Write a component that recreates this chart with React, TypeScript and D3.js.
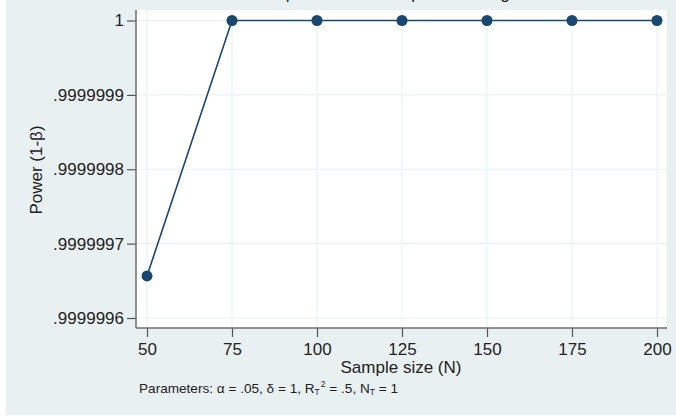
import { useRef, useEffect } from "react";
import * as d3 from "d3";

const sampleSizes = [50, 75, 100, 125, 150, 175, 200];
const power = [0.9999996565, 1, 1, 1, 1, 1, 1];
const yTicks = [0.9999996, 0.9999997, 0.9999998, 0.9999999, 1];
const yTickLabels = [".9999996", ".9999997", ".9999998", ".9999999", "1"];
const title = "Estimated power for a multiple linear regression test";

function PowerChart() {
    const svgRef = useRef<SVGSVGElement>(null);

    useEffect(() => {
        const w = 676
        const h = 416
        const font = "'Liberation Sans', Arial, sans-serif"
        const navy = "#1a476f"
        const svg = d3.select(svgRef.current)
            .attr("width", w)
            .attr("height", h)
        svg.selectAll("*").remove()

        // graph region
        svg.append("rect")
            .attr("x", 6).attr("y", 0)
            .attr("width", w - 6).attr("height", 415)
            .attr("fill", "#e9f0f2")

        // title, cut off at the top: only the descenders show
        svg.append("text")
            .attr("x", 401).attr("y", -1)
            .attr("text-anchor", "middle")
            .attr("font-family", font)
            .attr("font-size", 17)
            .attr("fill", "#222")
            .text(title)

        // plot region
        const left = 136, right = 667, top = 10, bottom = 328
        svg.append("rect")
            .attr("x", left).attr("y", top)
            .attr("width", right - left).attr("height", bottom - top)
            .attr("fill", "#fff")

        const xScale = d3.scaleLinear()
            .domain([50, 200])
            .range([147, 657])

        const yScale = d3.scaleLinear()
            .domain([0.9999996, 1])
            .range([318, 20.5])

        // grid
        svg.append("g")
            .selectAll("line")
            .data(sampleSizes)
            .enter()
            .append("line")
                .attr("x1", d => xScale(d)).attr("x2", d => xScale(d))
                .attr("y1", top).attr("y2", bottom)
                .attr("stroke", "#eaf2f3")
                .attr("stroke-width", 1.2)
        svg.append("g")
            .selectAll("line")
            .data(yTicks)
            .enter()
            .append("line")
                .attr("x1", left).attr("x2", right)
                .attr("y1", d => yScale(d)).attr("y2", d => yScale(d))
                .attr("stroke", "#eaf2f3")
                .attr("stroke-width", 1.2)

        // axes
        const xAxis = d3.axisBottom(xScale)
            .tickValues(sampleSizes)
            .tickSize(9)
            .tickPadding(5)
            .tickFormat(d3.format("d"))
        const yAxis = d3.axisLeft(yScale)
            .tickValues(yTicks)
            .tickSize(9)
            .tickPadding(3)
            .tickFormat((d, i) => yTickLabels[i])

        const gx = svg.append("g")
            .attr("transform", `translate(0, ${bottom})`)
            .call(xAxis)
        gx.select(".domain").remove()
        const gy = svg.append("g")
            .attr("transform", `translate(${left}, 0)`)
            .call(yAxis)
        gy.select(".domain").remove()

        svg.append("line")
            .attr("x1", left).attr("x2", right)
            .attr("y1", bottom).attr("y2", bottom)
            .attr("stroke", "#6e6e6e").attr("stroke-width", 1.5)
        svg.append("line")
            .attr("x1", left).attr("x2", left)
            .attr("y1", top).attr("y2", bottom)
            .attr("stroke", "#6e6e6e").attr("stroke-width", 1.5)

        svg.selectAll(".tick line").attr("stroke", "#555").attr("stroke-width", 1.2)
        svg.selectAll(".tick text")
            .attr("font-family", font)
            .attr("font-size", 17)
            .attr("fill", "#222")
        gx.selectAll(".tick text").attr("dy", "0.75em")

        // axis titles
        svg.append("text")
            .attr("x", 401).attr("y", 373)
            .attr("text-anchor", "middle")
            .attr("font-family", font)
            .attr("font-size", 17)
            .attr("fill", "#222")
            .text("Sample size (N)")
        svg.append("text")
            .attr("transform", "translate(42, 170) rotate(-90)")
            .attr("text-anchor", "middle")
            .attr("font-family", font)
            .attr("font-size", 17)
            .attr("fill", "#222")
            .text("Power (1-β)")

        // note
        const note = svg.append("text")
            .attr("x", 139).attr("y", 393)
            .attr("font-family", font)
            .attr("font-size", 13.6)
            .attr("fill", "#222")
        note.append("tspan").text("Parameters: α = .05, δ = 1, R")
        note.append("tspan").attr("font-size", 8.5).attr("dy", 2).text("T")
        note.append("tspan").attr("font-size", 8.5).attr("dy", -8).attr("dx", 1).text("2")
        note.append("tspan").attr("dy", 6).text(" = .5, N")
        note.append("tspan").attr("font-size", 8.5).attr("dy", 2).text("T")
        note.append("tspan").attr("dy", -2).text(" = 1")

        // series
        const points = sampleSizes.map((n, i) => [n, power[i]] as [number, number])
        const line = d3.line<[number, number]>()
            .x(d => xScale(d[0]))
            .y(d => yScale(d[1]))
        svg.append("path")
            .datum(points)
            .attr("d", line)
            .attr("fill", "none")
            .attr("stroke", navy)
            .attr("stroke-width", 1.6)
        svg.selectAll()
            .data(points)
            .enter()
            .append("circle")
                .attr("cx", d => xScale(d[0]))
                .attr("cy", d => yScale(d[1]))
                .attr("r", 5.5)
                .attr("fill", navy)
    }, [])

    return (
        <svg ref={svgRef} style={{ position: "absolute", left: 0, top: 0 }} />
    )
}

export default function App() {
    return <PowerChart />
}
